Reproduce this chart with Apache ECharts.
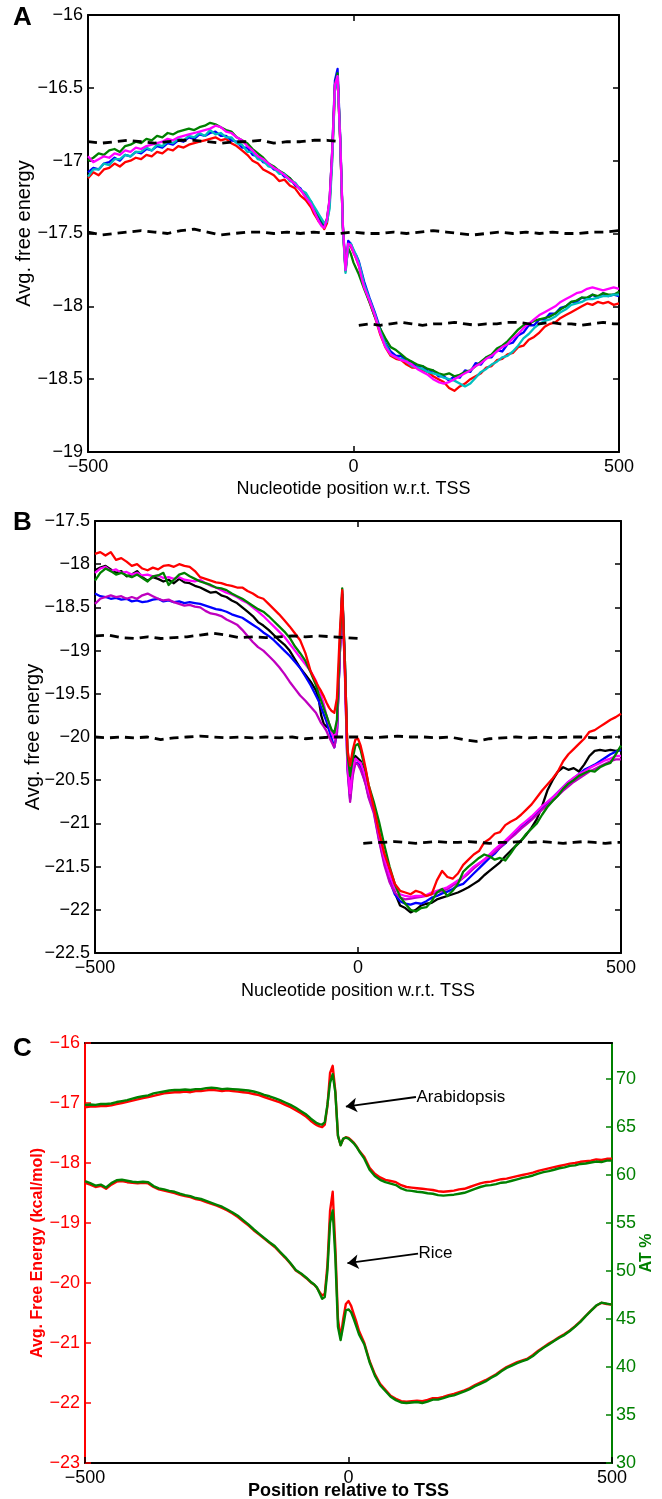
<!DOCTYPE html>
<html><head><meta charset="utf-8">
<script src="https://cdn.jsdelivr.net/npm/echarts@6/dist/echarts.min.js"></script>
<style>html,body{margin:0;padding:0;background:#fff}#c{width:662px;height:1499px}</style>
</head><body><div id="c"></div><script>
// ---------- sample positions (nucleotide position w.r.t. TSS) ----------
const X = [-500,-490,-480,-470,-460,-450,-440,-430,-420,-410,-400,-390,-380,-370,-360,-350,-340,-330,-320,-310,-300,-290,-280,-270,-260,-250,-240,-230,-220,-210,-200,-190,-180,-170,-160,-150,-140,-130,-120,-110,-100,-90,-80,
-75,-70,-65,-60,-55,-50,-45,-40,-35,-30,-25,-20,-15,-10,-5,0,5,10,15,20,
30,40,50,60,70,80,90,100,110,120,130,140,150,160,170,180,190,200,210,220,230,240,250,260,270,280,290,300,310,320,330,340,350,360,370,380,390,400,410,420,430,440,450,460,470,480,490,500];

// ---------- Panel A ----------
const A_red = [-17.12,-17.08,-17.10,-17.06,-17.05,-17.02,-17.04,-17.01,-17.00,-16.98,-16.99,-16.96,-16.97,-16.94,-16.95,-16.92,-16.93,-16.90,-16.91,-16.89,-16.88,-16.87,-16.86,-16.85,-16.84,-16.86,-16.85,-16.88,-16.90,-16.93,-16.96,-17.00,-17.02,-17.06,-17.08,-17.10,-17.14,-17.13,-17.17,-17.19,-17.24,-17.27,-17.32,
-17.36,-17.39,-17.42,-17.44,-17.47,-17.43,-17.30,-16.97,-16.52,-16.42,-16.87,-17.46,-17.76,-17.58,-17.59,-17.63,-17.67,-17.72,-17.79,-17.86,
-17.97,-18.07,-18.19,-18.28,-18.34,-18.36,-18.37,-18.40,-18.42,-18.42,-18.44,-18.45,-18.48,-18.50,-18.52,-18.56,-18.58,-18.55,-18.53,-18.50,-18.48,-18.46,-18.42,-18.41,-18.37,-18.36,-18.33,-18.32,-18.28,-18.27,-18.23,-18.21,-18.18,-18.14,-18.12,-18.11,-18.08,-18.06,-18.04,-18.02,-18.00,-17.98,-17.99,-17.97,-17.98,-17.97,-17.99,-17.98];
const A_blue = [-17.08,-17.05,-17.06,-17.02,-17.01,-16.98,-17.00,-16.96,-16.97,-16.94,-16.95,-16.92,-16.93,-16.90,-16.91,-16.88,-16.89,-16.86,-16.87,-16.84,-16.85,-16.82,-16.83,-16.81,-16.80,-16.83,-16.83,-16.86,-16.87,-16.91,-16.91,-16.96,-16.97,-17.01,-17.02,-17.06,-17.07,-17.11,-17.12,-17.17,-17.19,-17.25,-17.28,
-17.33,-17.36,-17.39,-17.42,-17.45,-17.41,-17.28,-16.92,-16.45,-16.37,-16.84,-17.44,-17.75,-17.55,-17.57,-17.62,-17.65,-17.69,-17.76,-17.83,
-17.94,-18.04,-18.15,-18.25,-18.31,-18.34,-18.34,-18.38,-18.38,-18.42,-18.41,-18.45,-18.44,-18.48,-18.48,-18.51,-18.48,-18.49,-18.44,-18.45,-18.39,-18.40,-18.35,-18.35,-18.30,-18.31,-18.26,-18.25,-18.20,-18.18,-18.13,-18.13,-18.09,-18.09,-18.05,-18.05,-18.01,-18.00,-17.97,-17.97,-17.94,-17.95,-17.92,-17.94,-17.91,-17.93,-17.92,-17.93];
const A_green = [-17.00,-16.98,-16.95,-16.96,-16.93,-16.92,-16.94,-16.90,-16.89,-16.87,-16.88,-16.85,-16.86,-16.83,-16.84,-16.81,-16.82,-16.80,-16.79,-16.78,-16.79,-16.77,-16.76,-16.74,-16.75,-16.77,-16.79,-16.80,-16.84,-16.86,-16.88,-16.92,-16.95,-16.98,-17.02,-17.04,-17.07,-17.09,-17.12,-17.16,-17.20,-17.24,-17.29,
-17.32,-17.35,-17.38,-17.41,-17.44,-17.40,-17.27,-16.94,-16.48,-16.40,-16.86,-17.46,-17.74,-17.60,-17.64,-17.70,-17.74,-17.78,-17.83,-17.88,
-17.97,-18.07,-18.15,-18.22,-18.28,-18.30,-18.33,-18.36,-18.38,-18.40,-18.41,-18.43,-18.44,-18.46,-18.47,-18.46,-18.48,-18.47,-18.45,-18.44,-18.41,-18.38,-18.35,-18.33,-18.29,-18.27,-18.24,-18.20,-18.16,-18.13,-18.12,-18.10,-18.09,-18.08,-18.07,-18.05,-18.02,-18.00,-17.97,-17.96,-17.94,-17.94,-17.92,-17.93,-17.91,-17.92,-17.92,-17.90];
const A_cyan = [-17.11,-17.06,-17.06,-17.02,-17.03,-16.99,-16.99,-16.96,-16.97,-16.94,-16.94,-16.91,-16.93,-16.89,-16.90,-16.87,-16.88,-16.85,-16.86,-16.83,-16.84,-16.81,-16.83,-16.79,-16.82,-16.81,-16.84,-16.84,-16.88,-16.89,-16.94,-16.94,-16.99,-17.00,-17.04,-17.05,-17.09,-17.09,-17.14,-17.15,-17.20,-17.22,-17.28,
-17.31,-17.34,-17.37,-17.40,-17.43,-17.42,-17.33,-17.00,-16.52,-16.42,-16.86,-17.47,-17.77,-17.59,-17.57,-17.61,-17.65,-17.70,-17.77,-17.85,
-17.95,-18.05,-18.17,-18.26,-18.33,-18.35,-18.36,-18.38,-18.41,-18.42,-18.43,-18.45,-18.46,-18.47,-18.49,-18.50,-18.51,-18.53,-18.55,-18.53,-18.49,-18.45,-18.43,-18.40,-18.38,-18.35,-18.34,-18.31,-18.27,-18.22,-18.19,-18.15,-18.12,-18.10,-18.09,-18.07,-18.04,-18.02,-17.99,-17.98,-17.97,-17.95,-17.95,-17.94,-17.93,-17.93,-17.92,-17.92];
const A_magenta = [-16.97,-17.01,-16.99,-16.97,-16.98,-16.95,-16.96,-16.93,-16.94,-16.91,-16.92,-16.90,-16.89,-16.88,-16.87,-16.85,-16.86,-16.84,-16.83,-16.82,-16.81,-16.80,-16.79,-16.78,-16.76,-16.77,-16.80,-16.81,-16.84,-16.86,-16.90,-16.93,-16.97,-16.99,-17.02,-17.05,-17.07,-17.10,-17.13,-17.16,-17.20,-17.25,-17.30,
-17.34,-17.38,-17.42,-17.45,-17.46,-17.40,-17.26,-16.93,-16.48,-16.42,-16.86,-17.45,-17.75,-17.57,-17.58,-17.63,-17.67,-17.72,-17.80,-17.87,
-17.96,-18.06,-18.18,-18.28,-18.33,-18.35,-18.37,-18.38,-18.40,-18.43,-18.45,-18.47,-18.50,-18.52,-18.53,-18.52,-18.50,-18.48,-18.46,-18.44,-18.41,-18.39,-18.36,-18.34,-18.31,-18.28,-18.26,-18.22,-18.19,-18.15,-18.12,-18.09,-18.06,-18.04,-18.02,-18.00,-17.97,-17.95,-17.93,-17.91,-17.90,-17.88,-17.87,-17.88,-17.89,-17.88,-17.87,-17.88];
// dashed reference lines in A
const A_dashU_x = [-500,-475,-450,-425,-400,-375,-350,-325,-300,-275,-250,-225,-200,-175,-150,-125,-100,-75,-50,-25];
const A_dashU = [-16.87,-16.88,-16.87,-16.86,-16.87,-16.88,-16.87,-16.86,-16.86,-16.87,-16.88,-16.87,-16.87,-16.86,-16.88,-16.87,-16.87,-16.86,-16.86,-16.87];
const DM_x = [-500,-475,-450,-425,-400,-375,-350,-325,-300,-275,-250,-225,-200,-175,-150,-125,-100,-75,-50,-25,0,25,50,75,100,125,150,175,200,225,250,275,300,325,350,375,400,425,450,475,500];
const A_dashM = [-17.49,-17.51,-17.50,-17.49,-17.48,-17.49,-17.50,-17.48,-17.47,-17.49,-17.51,-17.50,-17.49,-17.49,-17.50,-17.49,-17.50,-17.49,-17.50,-17.50,-17.49,-17.50,-17.50,-17.49,-17.50,-17.49,-17.48,-17.49,-17.50,-17.51,-17.50,-17.49,-17.50,-17.49,-17.50,-17.49,-17.50,-17.50,-17.49,-17.49,-17.48];
const DL_x = [10,30,50,70,90,110,130,150,170,190,210,230,250,270,290,310,330,350,370,390,410,430,450,470,490,500];
const A_dashL = [-18.13,-18.12,-18.13,-18.12,-18.11,-18.12,-18.13,-18.12,-18.12,-18.11,-18.12,-18.13,-18.12,-18.12,-18.11,-18.11,-18.12,-18.12,-18.11,-18.12,-18.12,-18.13,-18.12,-18.11,-18.12,-18.12];

// ---------- Panel B ----------
const B_red = [-17.88,-17.86,-17.90,-17.86,-17.95,-17.93,-17.97,-18.02,-18.00,-18.05,-18.07,-18.04,-18.06,-18.02,-18.01,-18.03,-18.00,-18.02,-18.03,-18.08,-18.15,-18.17,-18.19,-18.21,-18.22,-18.24,-18.25,-18.27,-18.27,-18.31,-18.34,-18.38,-18.40,-18.46,-18.52,-18.58,-18.65,-18.72,-18.80,-18.88,-19.03,-19.24,-19.36,
-19.42,-19.47,-19.53,-19.60,-19.66,-19.70,-19.72,-19.55,-18.85,-18.30,-19.20,-20.15,-20.33,-20.15,-20.03,-20.02,-20.10,-20.23,-20.38,-20.55,
-20.82,-21.10,-21.35,-21.52,-21.70,-21.78,-21.80,-21.82,-21.78,-21.80,-21.84,-21.82,-21.66,-21.55,-21.62,-21.64,-21.58,-21.48,-21.42,-21.36,-21.32,-21.22,-21.18,-21.12,-21.10,-21.02,-20.98,-20.95,-20.90,-20.84,-20.78,-20.70,-20.62,-20.55,-20.48,-20.40,-20.28,-20.20,-20.14,-20.08,-20.02,-19.94,-19.92,-19.88,-19.84,-19.80,-19.77,-19.73];
const B_green = [-18.19,-18.10,-18.05,-18.08,-18.12,-18.10,-18.13,-18.15,-18.12,-18.16,-18.20,-18.14,-18.13,-18.10,-18.24,-18.18,-18.12,-18.10,-18.14,-18.17,-18.20,-18.22,-18.24,-18.27,-18.28,-18.30,-18.34,-18.37,-18.40,-18.44,-18.48,-18.52,-18.55,-18.60,-18.66,-18.72,-18.78,-18.85,-18.95,-19.03,-19.12,-19.25,-19.40,
-19.50,-19.58,-19.67,-19.75,-19.84,-19.92,-19.95,-19.80,-19.00,-18.28,-19.10,-20.20,-20.45,-20.25,-20.10,-20.08,-20.15,-20.28,-20.40,-20.55,
-20.75,-20.98,-21.25,-21.50,-21.70,-21.85,-21.93,-22.00,-22.02,-21.98,-21.97,-21.90,-21.80,-21.76,-21.84,-21.78,-21.70,-21.56,-21.50,-21.45,-21.40,-21.36,-21.38,-21.42,-21.40,-21.43,-21.35,-21.26,-21.20,-21.12,-21.06,-21.00,-20.90,-20.81,-20.74,-20.68,-20.60,-20.54,-20.50,-20.45,-20.42,-20.39,-20.40,-20.35,-20.32,-20.30,-20.20,-20.10];
const B_black = [-18.07,-18.04,-18.02,-18.06,-18.10,-18.08,-18.14,-18.12,-18.08,-18.15,-18.19,-18.15,-18.17,-18.20,-18.18,-18.22,-18.17,-18.21,-18.22,-18.25,-18.27,-18.30,-18.33,-18.32,-18.36,-18.38,-18.42,-18.45,-18.50,-18.55,-18.60,-18.67,-18.71,-18.76,-18.82,-18.88,-18.93,-19.00,-19.10,-19.20,-19.28,-19.36,-19.46,
-19.55,-19.75,-19.85,-19.88,-19.90,-19.93,-20.00,-19.90,-19.10,-18.35,-19.10,-20.20,-20.50,-20.35,-20.22,-20.25,-20.28,-20.36,-20.47,-20.60,
-20.80,-21.10,-21.38,-21.60,-21.80,-21.95,-21.98,-22.03,-22.00,-21.95,-21.93,-21.92,-21.88,-21.86,-21.84,-21.82,-21.80,-21.77,-21.74,-21.70,-21.66,-21.60,-21.55,-21.50,-21.45,-21.38,-21.32,-21.26,-21.20,-21.13,-21.05,-20.95,-20.80,-20.62,-20.50,-20.40,-20.35,-20.38,-20.36,-20.40,-20.32,-20.22,-20.16,-20.15,-20.16,-20.15,-20.16,-20.15];
const B_magenta = [-18.10,-18.05,-18.03,-18.08,-18.06,-18.10,-18.09,-18.12,-18.10,-18.13,-18.12,-18.14,-18.13,-18.16,-18.15,-18.17,-18.15,-18.18,-18.19,-18.20,-18.18,-18.22,-18.25,-18.27,-18.30,-18.33,-18.35,-18.38,-18.42,-18.45,-18.50,-18.55,-18.60,-18.66,-18.72,-18.78,-18.84,-18.92,-19.00,-19.08,-19.16,-19.24,-19.35,
-19.45,-19.52,-19.62,-19.75,-19.85,-19.95,-20.02,-19.85,-19.05,-18.32,-19.15,-20.30,-20.65,-20.35,-20.25,-20.28,-20.30,-20.38,-20.48,-20.62,
-20.80,-21.12,-21.40,-21.60,-21.75,-21.82,-21.84,-21.85,-21.84,-21.84,-21.83,-21.80,-21.78,-21.76,-21.74,-21.70,-21.66,-21.62,-21.56,-21.50,-21.46,-21.42,-21.36,-21.30,-21.25,-21.20,-21.14,-21.08,-21.02,-20.97,-20.92,-20.86,-20.80,-20.75,-20.70,-20.64,-20.58,-20.52,-20.47,-20.43,-20.40,-20.36,-20.33,-20.30,-20.27,-20.25,-20.22,-20.22];
const B_purple = [-18.46,-18.40,-18.38,-18.36,-18.38,-18.37,-18.40,-18.38,-18.40,-18.36,-18.34,-18.37,-18.40,-18.42,-18.41,-18.44,-18.46,-18.48,-18.47,-18.49,-18.50,-18.54,-18.57,-18.58,-18.60,-18.64,-18.67,-18.70,-18.76,-18.83,-18.90,-18.96,-19.00,-19.06,-19.12,-19.19,-19.27,-19.36,-19.44,-19.52,-19.58,-19.65,-19.72,
-19.78,-19.84,-19.88,-19.93,-20.00,-20.06,-20.12,-19.95,-19.10,-18.38,-19.25,-20.38,-20.75,-20.45,-20.30,-20.32,-20.38,-20.46,-20.56,-20.70,
-20.88,-21.20,-21.48,-21.68,-21.80,-21.86,-21.88,-21.87,-21.86,-21.85,-21.84,-21.82,-21.80,-21.78,-21.76,-21.72,-21.68,-21.63,-21.58,-21.52,-21.47,-21.42,-21.38,-21.33,-21.28,-21.22,-21.17,-21.12,-21.06,-21.01,-20.96,-20.90,-20.84,-20.79,-20.74,-20.68,-20.62,-20.57,-20.52,-20.48,-20.44,-20.40,-20.37,-20.34,-20.31,-20.28,-20.26,-20.26];
const B_blue = [-18.34,-18.37,-18.38,-18.40,-18.39,-18.41,-18.40,-18.43,-18.42,-18.44,-18.43,-18.41,-18.40,-18.43,-18.42,-18.44,-18.43,-18.45,-18.44,-18.45,-18.46,-18.48,-18.50,-18.52,-18.53,-18.55,-18.58,-18.60,-18.62,-18.66,-18.70,-18.74,-18.79,-18.83,-18.88,-18.94,-19.00,-19.06,-19.13,-19.20,-19.30,-19.40,-19.52,
-19.58,-19.66,-19.74,-19.82,-19.92,-20.02,-20.12,-19.95,-19.10,-18.35,-19.20,-20.35,-20.72,-20.40,-20.30,-20.30,-20.35,-20.45,-20.55,-20.68,
-20.85,-21.18,-21.45,-21.66,-21.82,-21.90,-21.93,-21.94,-21.92,-21.93,-21.90,-21.86,-21.84,-21.81,-21.79,-21.76,-21.72,-21.70,-21.64,-21.58,-21.52,-21.46,-21.40,-21.35,-21.28,-21.23,-21.16,-21.10,-21.05,-21.00,-20.94,-20.88,-20.82,-20.76,-20.70,-20.64,-20.58,-20.52,-20.48,-20.43,-20.38,-20.35,-20.32,-20.28,-20.24,-20.20,-20.17,-20.15];
const B_dashU_x = [-500,-475,-450,-425,-400,-375,-350,-325,-300,-275,-250,-225,-200,-175,-150,-125,-100,-75,-50,-25,0];
const B_dashU = [-18.83,-18.82,-18.85,-18.86,-18.84,-18.86,-18.85,-18.84,-18.82,-18.80,-18.82,-18.85,-18.84,-18.85,-18.84,-18.83,-18.84,-18.83,-18.84,-18.85,-18.86];
const B_dashM = [-20.00,-20.01,-20.00,-20.01,-20.00,-20.03,-20.01,-20.00,-19.99,-20.00,-20.01,-20.00,-20.01,-20.00,-20.01,-20.00,-20.02,-20.01,-20.00,-20.00,-20.00,-20.01,-20.00,-19.99,-20.00,-20.00,-20.01,-20.00,-20.03,-20.05,-20.02,-20.01,-20.00,-20.01,-20.00,-20.01,-20.00,-20.00,-20.01,-20.00,-20.00];
const B_dashL = [-21.23,-21.22,-21.22,-21.21,-21.22,-21.23,-21.22,-21.21,-21.22,-21.22,-21.21,-21.22,-21.23,-21.22,-21.22,-21.21,-21.22,-21.21,-21.22,-21.23,-21.22,-21.21,-21.22,-21.23,-21.22,-21.22];

// ---------- Panel C ----------
const C_ara_fe = [-17.07,-17.06,-17.06,-17.05,-17.05,-17.04,-17.02,-17.00,-16.98,-16.96,-16.94,-16.92,-16.90,-16.88,-16.86,-16.84,-16.83,-16.82,-16.82,-16.81,-16.82,-16.80,-16.80,-16.79,-16.78,-16.79,-16.80,-16.79,-16.80,-16.81,-16.82,-16.83,-16.85,-16.87,-16.90,-16.93,-16.96,-16.99,-17.03,-17.07,-17.12,-17.17,-17.23,
-17.27,-17.31,-17.34,-17.37,-17.39,-17.40,-17.36,-17.05,-16.50,-16.38,-16.80,-17.55,-17.70,-17.60,-17.57,-17.58,-17.62,-17.66,-17.72,-17.79,
-17.90,-18.08,-18.18,-18.24,-18.28,-18.30,-18.32,-18.37,-18.40,-18.41,-18.42,-18.43,-18.44,-18.45,-18.47,-18.48,-18.47,-18.46,-18.44,-18.43,-18.40,-18.37,-18.34,-18.32,-18.31,-18.29,-18.27,-18.26,-18.24,-18.22,-18.20,-18.18,-18.16,-18.13,-18.11,-18.09,-18.07,-18.05,-18.03,-18.01,-18.00,-17.98,-17.97,-17.96,-17.94,-17.95,-17.93,-17.93];
const C_ara_at = [67.3,67.35,67.3,67.4,67.4,67.45,67.6,67.7,67.8,67.95,68.1,68.2,68.3,68.5,68.6,68.7,68.8,68.85,68.85,68.9,68.85,68.95,68.95,69.05,69.1,69.05,68.95,69.0,68.95,68.9,68.85,68.8,68.7,68.55,68.35,68.2,68.0,67.8,67.55,67.3,67.0,66.65,66.3,
66.05,65.8,65.6,65.4,65.3,65.25,65.5,67.3,69.6,70.5,68.6,64.1,63.1,63.8,63.9,63.8,63.55,63.3,62.95,62.5,
61.7,60.55,59.9,59.5,59.25,59.1,58.95,58.6,58.4,58.35,58.25,58.2,58.1,58.05,57.9,57.85,57.9,57.95,58.05,58.15,58.35,58.55,58.75,58.9,58.95,59.05,59.2,59.25,59.4,59.55,59.7,59.8,59.95,60.15,60.3,60.4,60.55,60.7,60.8,60.95,61.0,61.15,61.2,61.3,61.4,61.35,61.5,61.5];
const C_rice_fe = [-18.33,-18.36,-18.40,-18.38,-18.43,-18.36,-18.31,-18.30,-18.32,-18.33,-18.34,-18.33,-18.34,-18.40,-18.44,-18.46,-18.48,-18.50,-18.53,-18.55,-18.57,-18.60,-18.62,-18.65,-18.68,-18.71,-18.75,-18.79,-18.84,-18.90,-18.97,-19.04,-19.12,-19.19,-19.26,-19.33,-19.40,-19.49,-19.58,-19.68,-19.79,-19.85,-19.92,
-19.96,-20.00,-20.03,-20.08,-20.15,-20.21,-20.18,-19.70,-18.80,-18.48,-19.40,-20.60,-20.92,-20.60,-20.35,-20.30,-20.38,-20.52,-20.65,-20.80,
-21.00,-21.30,-21.52,-21.68,-21.78,-21.88,-21.93,-21.97,-21.98,-21.97,-21.96,-21.97,-21.95,-21.92,-21.92,-21.90,-21.87,-21.85,-21.82,-21.79,-21.75,-21.70,-21.66,-21.62,-21.57,-21.52,-21.46,-21.40,-21.36,-21.32,-21.29,-21.26,-21.20,-21.13,-21.07,-21.01,-20.96,-20.90,-20.85,-20.79,-20.72,-20.64,-20.55,-20.46,-20.38,-20.33,-20.35,-20.36];
const C_rice_at = [59.35,59.15,58.9,59.0,58.7,59.15,59.45,59.5,59.4,59.3,59.25,59.3,59.25,58.85,58.6,58.5,58.35,58.25,58.05,57.9,57.8,57.6,57.5,57.3,57.1,56.9,56.7,56.4,56.1,55.75,55.3,54.85,54.35,53.9,53.45,53.0,52.6,52.0,51.45,50.8,50.1,49.75,49.3,
49.05,48.8,48.6,48.3,47.7,47.1,47.3,50.0,55.0,56.3,51.5,44.2,42.8,44.3,45.9,46.0,45.7,45.0,44.2,43.4,
42.35,40.5,39.1,38.1,37.5,36.9,36.55,36.3,36.25,36.3,36.35,36.25,36.4,36.6,36.6,36.75,36.95,37.05,37.25,37.45,37.7,38.0,38.25,38.5,38.85,39.15,39.55,39.9,40.15,40.4,40.6,40.8,41.15,41.6,42.0,42.35,42.7,43.05,43.35,43.75,44.2,44.7,45.3,45.85,46.4,46.7,46.6,46.5];
// annotation arrows in C: [tail, head] in data coordinates
const C_labels = ['Arabidopsis', 'Rice'];
const C_arrowTail = [[128, -16.9], [132, -19.51]];
const C_arrowHead = [[-5, -17.06], [-2, -19.67]];

// ---------- build ----------
const FONT = '"Liberation Sans", Arial, Helvetica, sans-serif';
const pair = (xs, ys) => xs.map((x, i) => [x, ys[i]]);
const neg = v => (v < 0 ? '\u2212' : '') + Math.abs(v);
const problems = [];
[['A_red',A_red],['A_blue',A_blue],['A_green',A_green],['A_cyan',A_cyan],['A_magenta',A_magenta],
 ['B_red',B_red],['B_green',B_green],['B_black',B_black],['B_magenta',B_magenta],['B_purple',B_purple],['B_blue',B_blue],
 ['C_ara_fe',C_ara_fe],['C_ara_at',C_ara_at],['C_rice_fe',C_rice_fe],['C_rice_at',C_rice_at]].forEach(([k,v]) => {
  if (v.length !== X.length) problems.push(k + ':' + v.length);
});
if (problems.length) console.error('LENGTH MISMATCH ' + problems.join(','));

const BLK = '#000';
const lbl = (color) => ({ show: true, color: color, fontSize: 18, fontFamily: FONT, formatter: neg });
function xBottom(grid, name, bold, gap) {
  return { type: 'value', gridIndex: grid, position: 'bottom', min: -500, max: 500, interval: 500,
    axisLine: { show: true, onZero: false, lineStyle: { color: BLK, width: 2 } },
    axisTick: { show: true, inside: true, length: 6, lineStyle: { color: BLK, width: 1.5 } },
    axisLabel: Object.assign(lbl(BLK), { margin: 6 }),
    splitLine: { show: false },
    name: name, nameLocation: 'middle', nameGap: gap, nameMoveOverlap: false,
    nameTextStyle: { color: BLK, fontSize: 18, fontFamily: FONT, fontWeight: bold ? 'bold' : 'normal' } };
}
function xTop(grid, ticks) {
  return { type: 'value', gridIndex: grid, position: 'top', min: -500, max: 500, interval: 500,
    axisLine: { show: true, onZero: false, lineStyle: { color: BLK, width: 2 } },
    axisTick: { show: ticks, inside: true, length: 6, lineStyle: { color: BLK, width: 1.5 } },
    axisLabel: { show: false }, splitLine: { show: false } };
}
function yAx(grid, pos, min, max, interval, color, showLabel, name, nameGap, nameStyle) {
  const o = { type: 'value', gridIndex: grid, position: pos, min: min, max: max, interval: interval,
    axisLine: { show: true, onZero: false, lineStyle: { color: color, width: 2 } },
    axisTick: { show: true, inside: true, length: 6, lineStyle: { color: color, width: 1.5 } },
    axisLabel: showLabel ? Object.assign(lbl(color), { margin: 5 }) : { show: false },
    splitLine: { show: false } };
  if (name) { o.name = name; o.nameLocation = 'middle'; o.nameGap = nameGap; o.nameTextStyle = nameStyle; o.nameMoveOverlap = false; }
  return o;
}

const grids = [
  { left: 88, top: 15, width: 531, height: 437, outerBoundsMode: 'none', containLabel: false },
  { left: 95, top: 521, width: 526, height: 432, outerBoundsMode: 'none', containLabel: false },
  { left: 85, top: 1043, width: 527, height: 420, outerBoundsMode: 'none', containLabel: false }
];
const xAxes = [
  xBottom(0, 'Nucleotide position w.r.t. TSS', false, 28), xTop(0, true),
  xBottom(1, 'Nucleotide position w.r.t. TSS', false, 29), xTop(1, true),
  xBottom(2, 'Position relative to TSS', true, 19), xTop(2, false)
];
const yName = { color: BLK, fontSize: 20, fontFamily: FONT };
const yAxes = [
  yAx(0, 'left', -19, -16, 0.5, BLK, true, 'Avg. free energy', 54, yName),
  yAx(0, 'right', -19, -16, 0.5, BLK, false),
  yAx(1, 'left', -22.5, -17.5, 0.5, BLK, true, 'Avg. free energy', 52, yName),
  yAx(1, 'right', -22.5, -17.5, 0.5, BLK, false),
  yAx(2, 'left', -23, -16, 1, '#ff0000', true, 'Avg. Free Energy (kcal/mol)', 39,
      { color: '#ff0000', fontSize: 16, fontWeight: 'bold', fontFamily: FONT }),
  yAx(2, 'right', 30, 73.75, 5, '#008000', true, 'AT %', 27,
      { color: '#008000', fontSize: 16, fontWeight: 'bold', fontFamily: FONT })
];
yAxes[5].axisLabel.showMaxLabel = false;
yAxes[5].axisLabel.margin = 4;

function line(xi, yi, xs, ys, color, width, dashed) {
  return { type: 'line', xAxisIndex: xi, yAxisIndex: yi, data: pair(xs, ys), showSymbol: false, symbol: 'none',
    silent: true, animation: false,
    lineStyle: { color: color, width: width, type: dashed ? [9, 6] : 'solid', join: 'round' },
    itemStyle: { color: color } };
}

const series = [
  // A
  line(0, 0, X, A_red, '#ff0000', 2.3),
  line(0, 0, X, A_blue, '#0000ff', 2.3),
  line(0, 0, X, A_green, '#008000', 2.3),
  line(0, 0, X, A_cyan, '#00bfbf', 2.3),
  line(0, 0, X, A_magenta, '#ff00ff', 2.3),
  line(0, 0, A_dashU_x, A_dashU, BLK, 2.8, true),
  line(0, 0, DM_x, A_dashM, BLK, 2.8, true),
  line(0, 0, DL_x, A_dashL, BLK, 2.8, true),
  // B
  line(2, 2, X, B_black, '#000000', 2.3),
  line(2, 2, X, B_blue, '#0000ff', 2.3),
  line(2, 2, X, B_purple, '#bf00bf', 2.3),
  line(2, 2, X, B_magenta, '#ff00ff', 2.3),
  line(2, 2, X, B_green, '#008000', 2.3),
  line(2, 2, X, B_red, '#ff0000', 2.3),
  line(2, 2, B_dashU_x, B_dashU, BLK, 2.8, true),
  line(2, 2, DM_x, B_dashM, BLK, 2.8, true),
  line(2, 2, DL_x, B_dashL, BLK, 2.8, true),
  // C
  line(4, 4, X, C_ara_fe, '#ff0000', 2.4),
  line(4, 4, X, C_rice_fe, '#ff0000', 2.4),
  line(4, 5, X, C_ara_at, '#008000', 2.4),
  line(4, 5, X, C_rice_at, '#008000', 2.4)
];
// arrows + labels on the C panel
series[17].markLine = {
  silent: true, animation: false, symbol: ['none', 'arrow'], symbolSize: 11,
  lineStyle: { color: BLK, width: 1.8, type: 'solid' }, label: { show: false },
  data: C_labels.map((t, i) => [{ coord: C_arrowTail[i] }, { coord: C_arrowHead[i] }])
};
series[17].markPoint = {
  silent: true, animation: false, symbol: 'circle', symbolSize: 1, itemStyle: { color: 'rgba(0,0,0,0)' },
  label: { show: true, position: 'right', distance: 0, color: BLK, fontSize: 17, fontFamily: FONT },
  data: C_labels.map((t, i) => ({ coord: C_arrowTail[i], value: t, label: { formatter: t } }))
};

const letters = [['A', 18], ['B', 523], ['C', 1049]];
const graphic = letters.map(([t, y]) => ({ type: 'text', x: 13, y: y,
  style: { text: t, fill: BLK, font: 'bold 26px ' + FONT, fontSize: 26, fontWeight: 'bold', fontFamily: FONT,
           verticalAlign: 'middle', textVerticalAlign: 'middle' } }));
if (problems.length) graphic.push({ type: 'text', x: 100, y: 1480, style: { text: 'MISMATCH ' + problems.join(','), fill: 'red', fontSize: 12 } });

const chart = echarts.init(document.getElementById('c'), null, { renderer: 'canvas' });
chart.setOption({
  animation: false, backgroundColor: '#fff',
  grid: grids, xAxis: xAxes, yAxis: yAxes, series: series, graphic: graphic,
  tooltip: { show: false }, legend: { show: false }
});
</script></body></html>
